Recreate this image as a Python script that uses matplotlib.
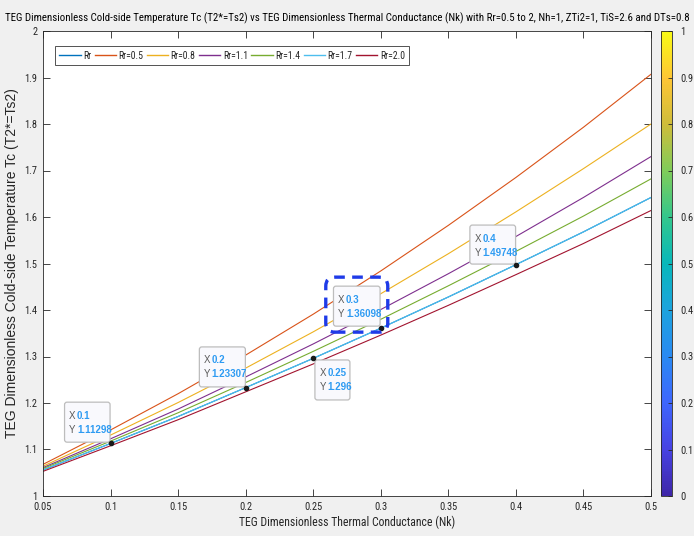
import matplotlib
matplotlib.use("Agg")
import matplotlib.pyplot as plt
import matplotlib.transforms as mtransforms
from matplotlib.patches import FancyBboxPatch
from matplotlib.colors import LinearSegmentedColormap
import matplotlib as mpl

# ---- data -------------------------------------------------------------
nk = [0.05, 0.10, 0.15, 0.20, 0.25, 0.30, 0.35, 0.40, 0.45, 0.50]

tc_rr05 = [1.068, 1.142, 1.220, 1.303, 1.391, 1.484, 1.582, 1.685, 1.793, 1.907]
tc_rr08 = [1.064, 1.131, 1.201, 1.275, 1.353, 1.435, 1.521, 1.611, 1.704, 1.800]
tc_rr11 = [1.061, 1.123, 1.187, 1.256, 1.327, 1.401, 1.478, 1.558, 1.642, 1.730]
tc_rr14 = [1.059, 1.118, 1.179, 1.244, 1.311, 1.380, 1.452, 1.526, 1.602, 1.682]
tc_rr17 = [1.056, 1.11298, 1.171, 1.23307, 1.296, 1.36098, 1.428, 1.49748, 1.568, 1.642]
tc_rr20 = [1.053, 1.108, 1.164, 1.224, 1.284, 1.346, 1.410, 1.476, 1.543, 1.614]
tc_rr = tc_rr17

series_labels = ["Rr", "Rr=0.5", "Rr=0.8", "Rr=1.1", "Rr=1.4", "Rr=1.7", "Rr=2.0"]
series_values = [tc_rr, tc_rr05, tc_rr08, tc_rr11, tc_rr14, tc_rr17, tc_rr20]
series_colors = ["#0072BD", "#D95319", "#EDB120", "#7E2F8E", "#77AC30", "#4DBEEE", "#A2142F"]

# data tips placed on the Rr=1.7 curve (index into nk)
tip_indices = [1, 3, 4, 5, 7]

x_ticks = [0.05, 0.1, 0.15, 0.2, 0.25, 0.3, 0.35, 0.4, 0.45, 0.5]
x_ticklabels = ["0.05", "0.1", "0.15", "0.2", "0.25", "0.3", "0.35", "0.4", "0.45", "0.5"]
y_ticks = [1.0, 1.1, 1.2, 1.3, 1.4, 1.5, 1.6, 1.7, 1.8, 1.9, 2.0]
y_ticklabels = ["1", "1.1", "1.2", "1.3", "1.4", "1.5", "1.6", "1.7", "1.8", "1.9", "2"]
cb_ticks = [0, 0.1, 0.2, 0.3, 0.4, 0.5, 0.6, 0.7, 0.8, 0.9, 1]
cb_ticklabels = ["0", "0.1", "0.2", "0.3", "0.4", "0.5", "0.6", "0.7", "0.8", "0.9", "1"]

title = ("TEG Dimensionless Cold-side Temperature Tc (T2*=Ts2) vs TEG Dimensionless "
         "Thermal Conductance (Nk) with Rr=0.5 to 2, Nh=1, ZTi2=1, TiS=2.6 and DTs=0.8")
xlabel = "TEG Dimensionless Thermal Conductance (Nk)"
ylabel = "TEG Dimensionless Cold-side Temperature Tc (T2*=Ts2)"

# ---- style ------------------------------------------------------------
FONT = ["Liberation Sans", "DejaVu Sans"]
NARROW = ["Roboto Condensed", "Open Sans Condensed", "Liberation Sans Narrow",
          "Liberation Sans"]
AX_COLOR = "#262626"

fig = plt.figure(figsize=(6.94, 5.36), dpi=100, facecolor="#F0F0F0")
W, H = 694, 536

def px_axes(l, t, r, b):
    return [l / W, 1 - b / H, (r - l) / W, (b - t) / H]

ax = fig.add_axes(px_axes(43, 31, 651, 496))
ax.set_facecolor("white")

for vals, lab, col in zip(series_values, series_labels, series_colors):
    ax.plot(nk, vals, color=col, lw=0.8, label=lab)

ax.set_xlim(0.05, 0.5)
ax.set_ylim(1, 2)
ax.set_xticks(x_ticks)
ax.set_xticklabels(x_ticklabels, fontfamily=NARROW, fontsize=7.5, color=AX_COLOR)
ax.set_yticks(y_ticks)
ax.set_yticklabels(y_ticklabels, fontfamily=NARROW, fontsize=7.5, color=AX_COLOR)
ax.tick_params(direction="in", length=5, width=0.6, color=AX_COLOR,
               top=True, right=True, pad=4)
for s in ax.spines.values():
    s.set_color(AX_COLOR)
    s.set_linewidth(0.6)

ax.set_xlabel(xlabel, fontfamily=NARROW, fontsize=8.5, color=AX_COLOR, labelpad=3)
ax.set_ylabel(ylabel, fontfamily=FONT, fontsize=10, color=AX_COLOR, labelpad=4)
fig.text(0.5, 1 - 18 / H, title, ha="center", va="center",
         fontfamily=NARROW, fontsize=7.8, color="black")

leg = ax.legend(loc="upper left", bbox_to_anchor=(0.0197, 0.967), ncol=7,
                prop={"family": NARROW, "size": 7}, frameon=True, fancybox=False,
                handlelength=2.2, handletextpad=0.25, columnspacing=0.35,
                borderpad=0.45, borderaxespad=0)
leg.get_frame().set_edgecolor(AX_COLOR)
leg.get_frame().set_linewidth(0.7)
for t in leg.get_texts():
    t.set_color(AX_COLOR)
for h in leg.legend_handles:
    h.set_linewidth(1.0)

# ---- data tips --------------------------------------------------------
# box offsets (pixels) relative to the tip point: (left, bottom, width, height)
tip_boxes = {
    1: (-46, 1.3, 45.5, 40),
    3: (-46.3, 0.7, 46, 40),
    4: (1.7, -41.6, 35, 40),
    5: (-47.3, 2, 46.6, 40),
    7: (-46, 0.6, 45.7, 39),
}

def fmt(v):
    return "%.6g" % v

for i in tip_indices:
    x, y = nk[i], tc_rr17[i]
    tr = mtransforms.Affine2D() + mtransforms.ScaledTranslation(x, y, ax.transData)
    bl, bb, bw, bh = tip_boxes[i]
    box = FancyBboxPatch((bl, bb), bw, bh,
                         boxstyle="round,pad=0,rounding_size=2.5",
                         facecolor="#F9F9FD", edgecolor="#BDBDBD", lw=0.9,
                         transform=tr, clip_on=False, zorder=5)
    ax.add_patch(box)
    top = bb + bh
    for row, (key, val) in enumerate([("X", fmt(x)), ("Y", fmt(y))]):
        yy = top - 13.5 - row * 14
        ax.text(bl + 4.5, yy, key, transform=tr, ha="left", va="center",
                fontfamily=FONT, fontsize=7, color="#5A5A5A", zorder=6,
                clip_on=False)
        ax.text(bl + 12.5, yy, val, transform=tr, ha="left", va="center",
                fontfamily=FONT, fontsize=7, color="#2E9BF2",
                fontweight="bold", zorder=6, clip_on=False)
    ax.plot([x], [y], marker="o", ms=3, color="#1A1A1A", zorder=7, clip_on=False)
    if i == 5:
        sel = FancyBboxPatch((-55, -4), 62, 55,
                             boxstyle="round,pad=0,rounding_size=9",
                             facecolor="none", edgecolor="#1F3BE8", lw=2.4,
                             linestyle=(0, (3.2, 2.2)), transform=tr,
                             clip_on=False, zorder=8)
        ax.add_patch(sel)

# ---- colorbar ---------------------------------------------------------
parula_pts = [
    (0.00, (0.2422, 0.1504, 0.6603)),
    (0.10, (0.2780, 0.2600, 0.8900)),
    (0.20, (0.2450, 0.4000, 0.9950)),
    (0.30, (0.1600, 0.5400, 0.9500)),
    (0.40, (0.1100, 0.6400, 0.8700)),
    (0.50, (0.0300, 0.7200, 0.7300)),
    (0.60, (0.2000, 0.7800, 0.5500)),
    (0.70, (0.5000, 0.8000, 0.3500)),
    (0.80, (0.8100, 0.7400, 0.2300)),
    (0.90, (0.9950, 0.7750, 0.2050)),
    (1.00, (0.9769, 0.9839, 0.0805)),
]
parula = LinearSegmentedColormap.from_list("parula", parula_pts)
cax = fig.add_axes(px_axes(661, 31, 672, 496))
cb = mpl.colorbar.ColorbarBase(cax, cmap=parula,
                               norm=mpl.colors.Normalize(0, 1))
cb.set_ticks(cb_ticks)
cb.set_ticklabels(cb_ticklabels)
cb.outline.set_edgecolor(AX_COLOR)
cb.outline.set_linewidth(0.6)
cax.tick_params(direction="in", length=3, width=0.6, color=AX_COLOR,
                labelsize=7.5, labelcolor=AX_COLOR, pad=6)
for t in cax.get_yticklabels():
    t.set_fontfamily(NARROW)

fig.savefig("out.png", dpi=100, facecolor=fig.get_facecolor())
